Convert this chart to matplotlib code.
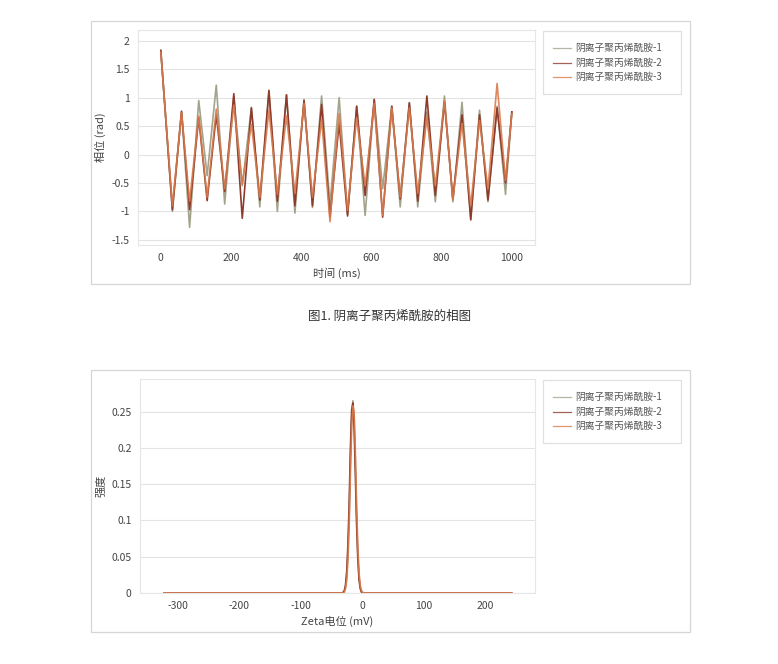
import matplotlib
matplotlib.use('Agg')
from matplotlib import pyplot as plt
from matplotlib.patches import Rectangle

plt.rcParams['font.family'] = ['Noto Sans CJK SC', 'DejaVu Sans']
plt.rcParams['axes.unicode_minus'] = False   # reference uses plain hyphen minus

W, H = 778, 664                           # output size in px

# ---------------- data: phase plot (extrema) ----------------
series_names = ['阴离子聚丙烯酰胺-1', '阴离子聚丙烯酰胺-2', '阴离子聚丙烯酰胺-3']
t_ms = [0, 33, 59, 82, 108, 132, 158, 182, 208, 232, 258, 282, 308, 332, 358, 382,
        408, 432, 458, 482, 508, 532, 558, 582, 608, 632, 658, 682, 708, 732, 758,
        782, 808, 832, 858, 883, 908, 932, 958, 982, 1000]
phase_1 = [1.83, -1.00, 0.76, -1.28, 0.95, -0.37, 1.22, -0.87, 1.02, -0.55, 0.83, -0.92,
           1.10, -1.00, 1.05, -1.03, 0.97, -0.93, 1.03, -0.88, 1.00, -1.05, 0.85, -1.07,
           0.97, -0.60, 0.85, -0.92, 0.91, -0.92, 0.75, -0.83, 1.03, -0.83, 0.92, -1.12,
           0.78, -0.83, 0.85, -0.70, 0.75]
phase_2 = [1.83, -0.97, 0.76, -0.97, 0.65, -0.81, 0.70, -0.65, 1.07, -1.12, 0.82, -0.80,
           1.13, -0.82, 1.05, -0.90, 0.95, -0.90, 0.88, -1.10, 0.55, -1.08, 0.85, -0.72,
           0.97, -1.10, 0.85, -0.78, 0.91, -0.82, 1.03, -0.72, 0.92, -0.78, 0.70, -1.15,
           0.70, -0.80, 0.82, -0.50, 0.75]
phase_3 = [1.80, -0.90, 0.74, -0.82, 0.68, -0.75, 0.80, -0.60, 0.87, -0.52, 0.53, -0.75,
           0.78, -0.70, 0.68, -0.68, 0.90, -0.75, 0.62, -1.18, 0.72, -0.98, 0.65, -0.55,
           0.90, -1.07, 0.82, -0.75, 0.82, -0.68, 0.65, -0.55, 0.95, -0.80, 0.55, -0.90,
           0.60, -0.60, 1.25, -0.45, 0.72]

# ---------------- data: zeta potential distribution ----------------
zeta_mv = [-322, -33, -31, -29, -27, -25, -23, -21, -19, -17, -15, -13, -11, -9, -7,
           -5, -3, -1, 1, 3, 243]
zeta_1 = [0, 0, 0.0, 0.002, 0.008, 0.023, 0.056, 0.109, 0.182, 0.241, 0.265, 0.241,
          0.182, 0.109, 0.056, 0.023, 0.008, 0.002, 0.0, 0, 0]
zeta_2 = [0, 0, 0.001, 0.003, 0.011, 0.030, 0.068, 0.125, 0.200, 0.252, 0.262, 0.228,
          0.165, 0.095, 0.047, 0.018, 0.006, 0.001, 0.0, 0, 0]
zeta_3 = [0, 0, 0.0, 0.001, 0.006, 0.018, 0.046, 0.095, 0.165, 0.228, 0.258, 0.250,
          0.196, 0.122, 0.064, 0.028, 0.010, 0.003, 0.001, 0, 0]

colors = ['#a3a38c', '#8e3b2c', '#d97a4c']   # grey-olive, dark brown, orange
grid_c = '#e3e3e3'
txt_c = '#444444'


def px_rect(left, top, right, bottom):
    """pixel box (top-origin) -> figure fraction [l, b, w, h]"""
    return [left / W, 1 - bottom / H, (right - left) / W, (bottom - top) / H]


def frame(fig, left, top, right, bottom, color='#d6d6d6'):
    l, b, w, h = px_rect(left, top, right, bottom)
    fig.patches.append(Rectangle((l, b), w, h, transform=fig.transFigure,
                                 fill=False, edgecolor=color, lw=0.9))


def style_axes(ax):
    for sp in ax.spines.values():
        sp.set_color('#e6e6e6')
        sp.set_linewidth(0.8)
    ax.tick_params(length=0, labelsize=7.5, labelcolor=txt_c, pad=6)
    ax.grid(axis='y', color=grid_c, lw=0.8)
    ax.set_axisbelow(True)


def legend_box(fig, top):
    frame(fig, 543, top, 681, top + 63, color='#e0e0e0')
    for i, (name, c) in enumerate(zip(series_names, colors)):
        y = 1 - (top + 17 + i * 14.5) / H
        fig.lines.append(plt.Line2D([553 / W, 571 / W], [y, y], transform=fig.transFigure,
                                    color=c, lw=0.9, alpha=0.8))
        fig.text(575 / W, y, name, fontsize=7, color='#555555', va='center', ha='left')


fig = plt.figure(figsize=(W / 100, H / 100), dpi=100)
fig.patch.set_facecolor('white')

# ---------------- top chart ----------------
frame(fig, 91, 21, 690, 284)
ax1 = fig.add_axes(px_rect(138, 30, 535, 245))
style_axes(ax1)
ax1.plot(t_ms, phase_1, color=colors[0], lw=1.2)
ax1.plot(t_ms, phase_2, color=colors[1], lw=1.2)
ax1.plot(t_ms, phase_3, color=colors[2], lw=1.2, alpha=0.9)
ax1.set_xlim(-65, 1066)
ax1.set_ylim(-1.59, 2.19)
ax1.set_xticks([0, 200, 400, 600, 800, 1000])
ax1.set_yticks([-1.5, -1, -0.5, 0, 0.5, 1, 1.5, 2])
ax1.set_yticklabels(['-1.5', '-1', '-0.5', '0', '0.5', '1', '1.5', '2'])
ax1.set_xlabel('时间 (ms)', fontsize=8, color=txt_c, labelpad=3)
ax1.set_ylabel('相位 (rad)', fontsize=8, color=txt_c, labelpad=4)
legend_box(fig, 31)

fig.text(390 / W, 1 - 316 / H, '图1. 阴离子聚丙烯酰胺的相图', fontsize=9,
         color='#333333', ha='center', va='center')

# ---------------- bottom chart ----------------
frame(fig, 91, 370, 690, 632)
ax2 = fig.add_axes(px_rect(140, 379, 535, 593))
style_axes(ax2)
ax2.plot(zeta_mv, zeta_1, color=colors[0], lw=1.2)
ax2.plot(zeta_mv, zeta_2, color=colors[1], lw=1.2)
ax2.plot(zeta_mv, zeta_3, color=colors[2], lw=1.2, alpha=0.9)
ax2.set_xlim(-361, 281)
ax2.set_ylim(0, 0.295)
ax2.set_xticks([-300, -200, -100, 0, 100, 200])
ax2.set_yticks([0, 0.05, 0.1, 0.15, 0.2, 0.25])
ax2.set_yticklabels(['0', '0.05', '0.1', '0.15', '0.2', '0.25'])
ax2.set_xlabel('Zeta电位 (mV)', fontsize=8, color=txt_c, labelpad=3)
ax2.set_ylabel('强度', fontsize=8, color=txt_c, labelpad=4)
legend_box(fig, 380)

fig.savefig('out.png', dpi=100, facecolor='white')
